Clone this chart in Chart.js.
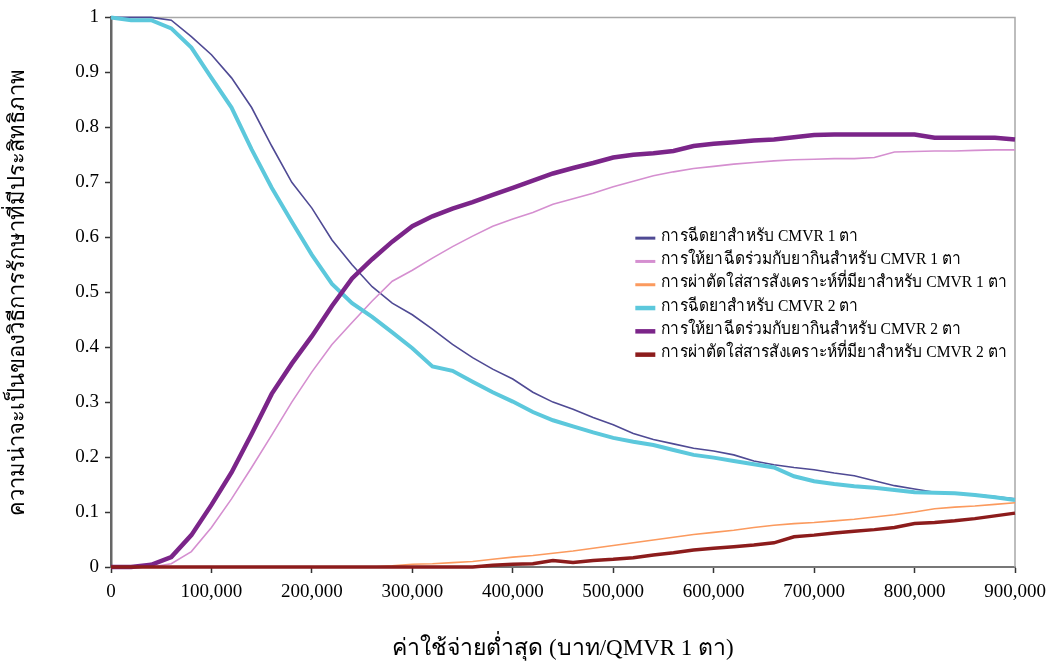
<!DOCTYPE html>
<html>
<head>
<meta charset="utf-8">
<script src="https://cdn.jsdelivr.net/npm/chart.js@4.4.1/dist/chart.umd.min.js"></script>
<style>
  body { margin: 0; background: #fff; }
  #wrap { width: 1046px; height: 669px; }
</style>
</head>
<body>
<div id="wrap"><canvas id="costChart" width="1046" height="669"></canvas></div>
<script>
// cost axis (baht / QMVR 1 eye)
const costs = [0, 20000, 40000, 60000, 80000, 100000, 120000, 140000, 160000, 180000,
  200000, 220000, 240000, 260000, 280000, 300000, 320000, 340000, 360000, 380000,
  400000, 420000, 440000, 460000, 480000, 500000, 520000, 540000, 560000, 580000,
  600000, 620000, 640000, 660000, 680000, 700000, 720000, 740000, 760000, 780000,
  800000, 820000, 840000, 860000, 880000, 900000];

const labels = [
  'การฉีดยาสำหรับ CMVR 1 ตา',
  'การให้ยาฉีดร่วมกับยากินสำหรับ CMVR 1 ตา',
  'การผ่าตัดใส่สารสังเคราะห์ที่มียาสำหรับ CMVR 1 ตา',
  'การฉีดยาสำหรับ CMVR 2 ตา',
  'การให้ยาฉีดร่วมกับยากินสำหรับ CMVR 2 ตา',
  'การผ่าตัดใส่สารสังเคราะห์ที่มียาสำหรับ CMVR 2 ตา'
];

const inject1 = [1, 1, 1, 0.995, 0.965, 0.932, 0.89, 0.836, 0.766, 0.70,
  0.653, 0.595, 0.55, 0.51, 0.48, 0.459, 0.433, 0.405, 0.381, 0.36,
  0.342, 0.318, 0.30, 0.287, 0.272, 0.259, 0.243, 0.232, 0.224, 0.216,
  0.211, 0.204, 0.193, 0.186, 0.181, 0.177, 0.171, 0.166, 0.157, 0.148,
  0.142, 0.136, 0.134, 0.132, 0.128, 0.124];

const combo1 = [0, 0, 0, 0.006, 0.028, 0.072, 0.124, 0.181, 0.24, 0.30,
  0.355, 0.405, 0.445, 0.484, 0.52, 0.54, 0.562, 0.583, 0.602, 0.62,
  0.633, 0.645, 0.66, 0.67, 0.68, 0.692, 0.702, 0.712, 0.719, 0.725,
  0.729, 0.733, 0.736, 0.739, 0.741, 0.742, 0.743, 0.743, 0.745, 0.755,
  0.756, 0.757, 0.757, 0.758, 0.759, 0.759];

const implant1 = [0, 0, 0, 0, 0, 0, 0, 0, 0, 0,
  0, 0, 0, 0, 0.002, 0.005, 0.006, 0.008, 0.01, 0.014,
  0.018, 0.021, 0.025, 0.029, 0.034, 0.039, 0.044, 0.049, 0.054, 0.059,
  0.063, 0.067, 0.072, 0.076, 0.079, 0.081, 0.084, 0.087, 0.091, 0.095,
  0.10, 0.106, 0.109, 0.111, 0.114, 0.117];

const inject2 = [1, 0.995, 0.995, 0.98, 0.945, 0.89, 0.836, 0.76, 0.69, 0.628,
  0.568, 0.515, 0.48, 0.455, 0.427, 0.398, 0.365, 0.357, 0.337, 0.318,
  0.301, 0.282, 0.267, 0.256, 0.245, 0.235, 0.228, 0.222, 0.213, 0.204,
  0.199, 0.193, 0.187, 0.181, 0.165, 0.156, 0.151, 0.147, 0.144, 0.14,
  0.136, 0.135, 0.134, 0.131, 0.127, 0.122];

const combo2 = [0, 0, 0.004, 0.018, 0.058, 0.113, 0.172, 0.242, 0.315, 0.37,
  0.42, 0.475, 0.525, 0.56, 0.592, 0.62, 0.638, 0.652, 0.664, 0.677,
  0.69, 0.703, 0.716, 0.726, 0.735, 0.745, 0.75, 0.753, 0.757, 0.766,
  0.77, 0.773, 0.776, 0.778, 0.782, 0.786, 0.787, 0.787, 0.787, 0.787,
  0.787, 0.781, 0.781, 0.781, 0.781, 0.778];

const implant2 = [0, 0, 0, 0, 0, 0, 0, 0, 0, 0,
  0, 0, 0, 0, 0, 0, 0, 0, 0, 0.003,
  0.005, 0.006, 0.012, 0.008, 0.012, 0.014, 0.017, 0.022, 0.026, 0.031,
  0.034, 0.037, 0.04, 0.044, 0.055, 0.058, 0.062, 0.065, 0.068, 0.072,
  0.079, 0.081, 0.084, 0.088, 0.093, 0.098];

const series = [inject1, combo1, implant1, inject2, combo2, implant2];
const colors = ['#4f4a94', '#d58fd0', '#fb9a5e', '#5cc8dc', '#7b2589', '#8c1c1c'];
const widths = [1.6, 1.6, 1.6, 4, 4.5, 3.5];

const FONT = "'Liberation Serif', 'Times New Roman', serif";

// legend drawn inside the plot area, squeezed to the narrow Thai face of the original
const insideLegend = {
  id: 'insideLegend',
  afterDraw(chart) {
    const { ctx, chartArea } = chart;
    const x0 = chartArea.left + (chartArea.right - chartArea.left) * 0.58;
    const y0 = chartArea.top + (chartArea.bottom - chartArea.top) * 0.398;
    const rowH = 23.3;
    const textX = x0 + 26;
    const maxW = chartArea.right - 8 - textX;
    ctx.save();
    ctx.font = '17px ' + FONT;
    ctx.textBaseline = 'middle';
    ctx.fillStyle = '#000';
    const widest = Math.max(...chart.data.datasets.map(d => ctx.measureText(d.label).width));
    const sx = Math.min(1, maxW / widest);
    chart.data.datasets.forEach((ds, i) => {
      const y = y0 + i * rowH;
      ctx.strokeStyle = ds.borderColor;
      ctx.lineWidth = i < 3 ? 3 : 4.5;
      ctx.beginPath();
      ctx.moveTo(x0, y + 2);
      ctx.lineTo(x0 + 20, y + 2);
      ctx.stroke();
      ctx.save();
      ctx.translate(textX, y);
      ctx.scale(sx, 1);
      ctx.fillText(ds.label, 0, 0);
      ctx.restore();
    });
    ctx.restore();
  }
};

// light frame around the plot
const plotFrame = {
  id: 'plotFrame',
  beforeDatasetsDraw(chart) {
    const { ctx, chartArea } = chart;
    ctx.save();
    ctx.strokeStyle = '#a8a8a8';
    ctx.lineWidth = 1.5;
    ctx.beginPath();
    ctx.moveTo(chartArea.left, chartArea.top);
    ctx.lineTo(chartArea.right, chartArea.top);
    ctx.lineTo(chartArea.right, chartArea.bottom);
    ctx.stroke();
    ctx.restore();
  }
};

const ctx = document.getElementById('costChart').getContext('2d');
const costChart = new Chart(ctx, {
  type: 'line',
  data: {
    datasets: series.map((vals, i) => ({
      label: labels[i],
      data: vals.map((v, j) => ({ x: costs[j], y: v })),
      borderColor: colors[i],
      backgroundColor: colors[i],
      borderWidth: widths[i],
      pointRadius: 0,
      tension: 0,
      clip: false,
      order: series.length - i
    }))
  },
  options: {
    responsive: false,
    animation: false,
    layout: { padding: { top: 15, right: 0, left: 0, bottom: 0 } },
    plugins: {
      legend: { display: false },
      tooltip: { enabled: false }
    },
    scales: {
      x: {
        type: 'linear',
        min: 0,
        max: 900000,
        afterFit: s => { s.height = 102; s.paddingRight = 31; },
        ticks: {
          stepSize: 100000,
          color: '#000',
          padding: 8,
          font: { family: FONT, size: 19 }
        },
        grid: { drawOnChartArea: false, drawTicks: true, tickLength: 6, color: '#333', tickWidth: 1.5 },
        border: { color: '#777', width: 2 },
        title: {
          display: true,
          text: 'ค่าใช้จ่ายต่ำสุด (บาท/QMVR 1 ตา)',
          color: '#000',
          font: { family: FONT, size: 23 },
          padding: { top: 0, bottom: 6 }
        }
      },
      y: {
        min: 0,
        max: 1,
        afterFit: s => { s.width = 111; },
        ticks: {
          stepSize: 0.1,
          color: '#000',
          padding: 6,
          font: { family: FONT, size: 19 },
          callback: v => String(Math.round(v * 10) / 10)
        },
        grid: { drawOnChartArea: false, drawTicks: true, tickLength: 6, color: '#333', tickWidth: 1.5 },
        border: { color: '#666', width: 2.5 },
        title: {
          display: true,
          text: 'ความน่าจะเป็นของวิธีการรักษาที่มีประสิทธิภาพ',
          color: '#000',
          font: { family: FONT, size: 22 },
          padding: { top: 5, bottom: 0 }
        }
      }
    }
  },
  plugins: [plotFrame, insideLegend]
});
</script>
</body>
</html>
